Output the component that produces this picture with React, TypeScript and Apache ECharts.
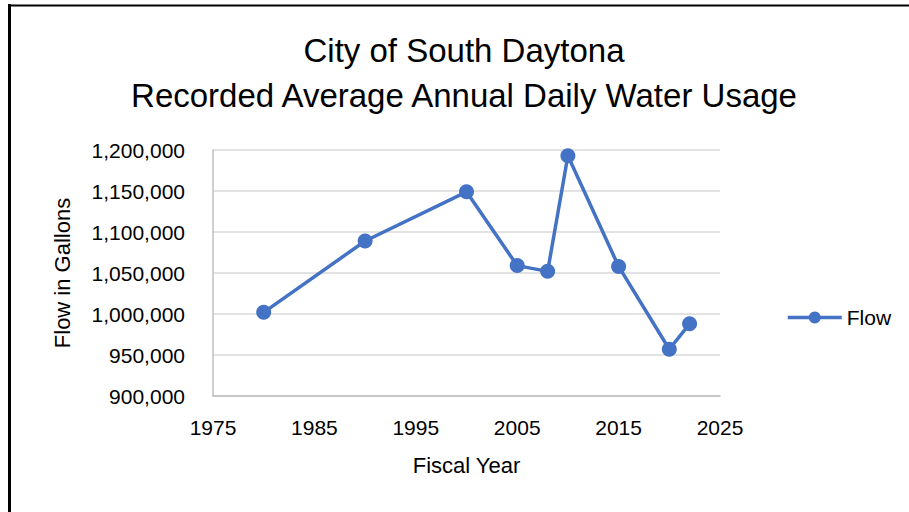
import React, { useEffect, useRef } from "react";
import * as echarts from "echarts";

const titleLines = ["City of South Daytona", "Recorded Average Annual Daily Water Usage"];
const seriesName = "Flow";
const years = [1980, 1990, 2000, 2005, 2008, 2010, 2015, 2020, 2022];
const flows = [1002000, 1089000, 1149000, 1059000, 1052000, 1193000, 1058000, 957000, 988000];
const xAxisName = "Fiscal Year";
const yAxisName = "Flow in Gallons";

const FONT = "'Liberation Sans', Arial, sans-serif";

export default function App() {
  const ref = useRef<HTMLDivElement>(null);
  useEffect(() => {
    if (!ref.current) return;
    const chart = echarts.init(ref.current, undefined, { renderer: "svg" });
    chart.setOption({
      animation: false,
      backgroundColor: "#ffffff",
      textStyle: { fontFamily: FONT },
      graphic: [
        { type: "line", shape: { x1: 9.5, y1: 4, x2: 9.5, y2: 520 }, style: { stroke: "#000", lineWidth: 3 } },
        { type: "line", shape: { x1: 8, y1: 5.5, x2: 920, y2: 5.5 }, style: { stroke: "#000", lineWidth: 2 } },
        {
          type: "text", x: 464, y: 50,
          style: { text: titleLines[0], fontSize: 33, fontFamily: FONT, fill: "#000", align: "center", verticalAlign: "middle" },
        },
        {
          type: "text", x: 464, y: 95,
          style: { text: titleLines[1], fontSize: 33, fontFamily: FONT, fill: "#000", align: "center", verticalAlign: "middle" },
        },
      ],
      legend: {
        data: [seriesName],
        left: 786,
        top: 307,
        padding: 0,
        itemWidth: 54,
        itemHeight: 15,
        lineStyle: { width: 3.5, color: "#4472c4" },
        textStyle: { fontSize: 21, color: "#000", fontFamily: FONT },
      },
      grid: { left: 213, right: 189, top: 150, bottom: 116 },
      xAxis: {
        type: "value",
        min: 1975,
        max: 2025,
        interval: 10,
        name: xAxisName,
        nameLocation: "middle",
        nameGap: 58,
        nameTextStyle: { fontSize: 22, color: "#000", fontFamily: FONT },
        axisLine: { show: true, lineStyle: { color: "#bfbfbf", width: 1.5 } },
        axisTick: { show: false },
        splitLine: { show: false },
        axisLabel: {
          fontSize: 21, color: "#000", margin: 21, fontFamily: FONT,
          showMinLabel: true, showMaxLabel: true,
          formatter: (v: number) => String(v),
        },
      },
      yAxis: {
        type: "value",
        min: 900000,
        max: 1200000,
        interval: 50000,
        name: yAxisName,
        nameLocation: "middle",
        nameGap: 140,
        nameTextStyle: { fontSize: 22, color: "#000", fontFamily: FONT },
        axisLine: { show: true, lineStyle: { color: "#bfbfbf", width: 1.5 } },
        axisTick: { show: false },
        splitLine: { show: true, lineStyle: { color: "#d9d9d9", width: 1.5 } },
        axisLabel: {
          fontSize: 21,
          color: "#000",
          margin: 28,
          fontFamily: FONT,
          formatter: (v: number) => v.toLocaleString("en-US"),
        },
      },
      series: [
        {
          name: seriesName,
          type: "line",
          data: years.map((y, i) => [y, flows[i]]),
          symbol: "circle",
          symbolSize: 15,
          lineStyle: { color: "#4472c4", width: 3.5 },
          itemStyle: { color: "#4472c4" },
        },
      ],
    });
    return () => chart.dispose();
  }, []);
  return <div ref={ref} style={{ position: "absolute", left: 0, top: 0, width: 909, height: 512 }} />;
}
